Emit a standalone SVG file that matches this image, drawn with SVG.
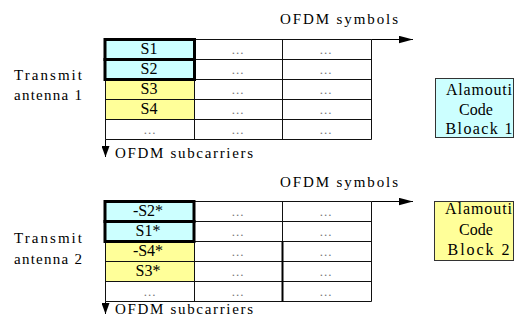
<svg xmlns="http://www.w3.org/2000/svg" width="515" height="321" viewBox="0 0 515 321">
  <style>
    .lbl { font-family: "Liberation Serif", serif; font-size: 15px; fill: #000; }
    .cell { font-family: "Liberation Serif", serif; font-size: 16px; text-anchor: middle; fill: #000; }
    .dots { font-family: "Liberation Serif", serif; font-size: 13px; text-anchor: middle; fill: #777; letter-spacing: 1px; }
    .box { font-family: "Liberation Serif", serif; font-size: 16px; text-anchor: middle; fill: #000; }
    .grid { stroke: #111; stroke-width: 1; fill: none; }
    .thick { stroke: #000; stroke-width: 3; fill: none; }
    .cyan { fill: #ccffff; }
    .yellow { fill: #ffff99; }
    .axis { stroke: #000; stroke-width: 1; fill: none; }
  </style>
  <defs>
    <marker id="headH" markerUnits="userSpaceOnUse" markerWidth="14" markerHeight="8" refX="14" refY="3.7" orient="auto">
      <path d="M0,0 L14,3.7 L0,7.4 z" fill="#000"/>
    </marker>
    <marker id="headV" markerUnits="userSpaceOnUse" markerWidth="11" markerHeight="8" refX="11" refY="4" orient="auto">
      <path d="M0,0 L11,4 L0,8 z" fill="#000"/>
    </marker>
  </defs>
  <rect width="515" height="321" fill="#fff"/>

  <!-- Antenna 1 grid -->
  <g id="grid-antenna-1" font-family="Liberation Serif">
    <rect class="cyan" x="105.5" y="39.5" width="89" height="40"/>
    <rect class="yellow" x="105.5" y="79.5" width="89" height="40"/>
    <path class="grid" d="M105.5,39.5 H371.5 V139.5 H105.5 Z M105.5,59.5 H371.5 M105.5,79.5 H371.5 M105.5,99.5 H371.5 M105.5,119.5 H371.5 M194.5,39.5 V139.5 M282.5,39.5 V139.5"/>
    <rect class="thick" x="105" y="39.5" width="89.5" height="20"/>
    <rect class="thick" x="105" y="59.5" width="89.5" height="20"/>
    <text class="cell" x="149" y="54">S1</text>
    <text class="cell" x="149" y="74">S2</text>
    <text class="cell" x="149" y="94">S3</text>
    <text class="cell" x="149" y="114">S4</text>
    <text class="dots" x="150" y="134">...</text>
    <text class="dots" x="238" y="54">...</text>
    <text class="dots" x="238" y="74">...</text>
    <text class="dots" x="238" y="94">...</text>
    <text class="dots" x="238" y="114">...</text>
    <text class="dots" x="238" y="134">...</text>
    <text class="dots" x="326" y="54">...</text>
    <text class="dots" x="326" y="74">...</text>
    <text class="dots" x="326" y="94">...</text>
    <text class="dots" x="326" y="114">...</text>
    <text class="dots" x="326" y="134">...</text>
  </g>

  <!-- Antenna 2 grid -->
  <g id="grid-antenna-2" font-family="Liberation Serif">
    <rect class="cyan" x="105.5" y="201.5" width="89" height="40"/>
    <rect class="yellow" x="105.5" y="241.5" width="89" height="40"/>
    <path class="grid" d="M105.5,201.5 H371.5 V301.5 H105.5 Z M105.5,221.5 H371.5 M105.5,241.5 H371.5 M105.5,261.5 H371.5 M105.5,281.5 H371.5 M194.5,201.5 V301.5 M282.5,201.5 V301.5"/>
    <path d="M282.5,241.5 V301.5" stroke="#000" stroke-width="2"/>
    <rect class="thick" x="105" y="201.5" width="89" height="20"/>
    <rect class="thick" x="105" y="221.5" width="89" height="20"/>
    <text class="cell" x="148" y="215.5">-S2*</text>
    <text class="cell" x="148" y="235.5">S1*</text>
    <text class="cell" x="148" y="255.5">-S4*</text>
    <text class="cell" x="148" y="275.5">S3*</text>
    <text class="dots" x="150" y="296">...</text>
    <text class="dots" x="238" y="216">...</text>
    <text class="dots" x="238" y="236">...</text>
    <text class="dots" x="238" y="256">...</text>
    <text class="dots" x="238" y="276">...</text>
    <text class="dots" x="238" y="296">...</text>
    <text class="dots" x="326" y="216">...</text>
    <text class="dots" x="326" y="236">...</text>
    <text class="dots" x="326" y="256">...</text>
    <text class="dots" x="326" y="276">...</text>
    <text class="dots" x="326" y="296">...</text>
  </g>

  <!-- Axis arrows -->
  <g id="connectors">
    <line class="axis" x1="371.5" y1="39.5" x2="413" y2="39.5" marker-end="url(#headH)"/>
    <line class="axis" x1="105.5" y1="139.5" x2="105.5" y2="157" marker-end="url(#headV)"/>
    <line class="axis" x1="371.5" y1="201.5" x2="413" y2="201.5" marker-end="url(#headH)"/>
    <line class="axis" x1="105.5" y1="301.5" x2="105.5" y2="314" marker-end="url(#headV)"/>
  </g>

  <!-- Axis labels -->
  <g id="axis-labels" font-family="Liberation Serif">
    <text class="lbl" x="280" y="24" textLength="118" lengthAdjust="spacing">OFDM symbols</text>
    <text class="lbl" x="115" y="158" textLength="138" lengthAdjust="spacing">OFDM subcarriers</text>
    <text class="lbl" x="280" y="187" textLength="118" lengthAdjust="spacing">OFDM symbols</text>
    <text class="lbl" x="115" y="313.5" textLength="138" lengthAdjust="spacing">OFDM subcarriers</text>
  </g>

  <!-- Antenna labels -->
  <g id="antenna-1" font-family="Liberation Serif">
    <text class="lbl" x="14" y="80" font-size="16" textLength="68" lengthAdjust="spacing">Transmit</text>
    <text class="lbl" x="14" y="100" font-size="16" textLength="68" lengthAdjust="spacing">antenna 1</text>
  </g>
  <g id="antenna-2" font-family="Liberation Serif">
    <text class="lbl" x="14" y="243" font-size="16" textLength="68" lengthAdjust="spacing">Transmit</text>
    <text class="lbl" x="14" y="264" font-size="16" textLength="68" lengthAdjust="spacing">antenna 2</text>
  </g>

  <!-- Code block legends -->
  <g id="code-block-1" font-family="Liberation Serif">
    <rect x="435.5" y="78.5" width="78" height="59" fill="#ccffff" stroke="#333" stroke-width="1"/>
    <text class="box" x="479" y="95" textLength="66" lengthAdjust="spacing">Alamouti</text>
    <text class="box" x="476" y="115">Code</text>
    <text class="box" x="479" y="134" textLength="67" lengthAdjust="spacing">Bloack 1</text>
  </g>
  <g id="code-block-2" font-family="Liberation Serif">
    <rect x="434.5" y="201.5" width="79" height="59" fill="#ffff99" stroke="#333" stroke-width="1"/>
    <text class="box" x="478.5" y="213.5" textLength="67" lengthAdjust="spacing">Alamouti</text>
    <text class="box" x="476" y="234.5">Code</text>
    <text class="box" x="478.5" y="255" textLength="62" lengthAdjust="spacing">Block 2</text>
  </g>
</svg>
